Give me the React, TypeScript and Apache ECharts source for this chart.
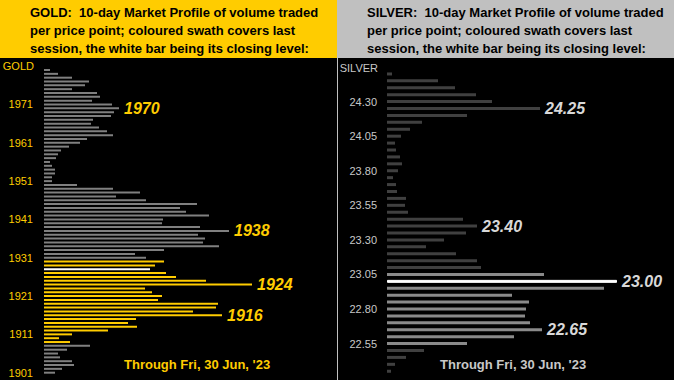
import React, { useEffect, useRef } from "react";
import * as echarts from "echarts";

// GOLD: price points (top to bottom) and 10-day volume per price point (arbitrary units)
const goldPrices = [
  "1980", "1979", "1978", "1977", "1976", "1975", "1974", "1973", "1972", "1971",
  "1970", "1969", "1968", "1967", "1966", "1965", "1964", "1963", "1962", "1961",
  "1960", "1959", "1958", "1957", "1956", "1955", "1954", "1953", "1952", "1951",
  "1950", "1949", "1948", "1947", "1946", "1945", "1944", "1943", "1942", "1941",
  "1940", "1939", "1938", "1937", "1936", "1935", "1934", "1933", "1932", "1931",
  "1930", "1929", "1928", "1927", "1926", "1925", "1924", "1923", "1922", "1921",
  "1920", "1919", "1918", "1917", "1916", "1915", "1914", "1913", "1912", "1911",
  "1910", "1909", "1908", "1907", "1906", "1905", "1904", "1903", "1902", "1901",
];
const goldVolume = [
  6, 14, 28, 45, 41, 28, 53, 56, 48, 68,
  75, 70, 67, 49, 47, 55, 63, 69, 43, 36,
  25, 17, 14, 12, 6, 8, 11, 11, 8, 8,
  33, 69, 96, 72, 102, 153, 136, 142, 165, 119,
  118, 156, 185, 154, 161, 159, 175, 120, 91, 102,
  120, 111, 106, 122, 132, 162, 208, 101, 108, 118,
  114, 174, 172, 149, 178, 92, 84, 93, 64, 28,
  15, 26, 46, 23, 14, 16, 28, 30, 18, 11,
];
const goldSessionHigh = 1930;
const goldSessionLow = 1909;
const goldClose = "1928";
const goldCallouts = ["1970", "1938", "1924", "1916"];

// SILVER
const silverPrices = [
  "24.50", "24.45", "24.40", "24.35", "24.30", "24.25", "24.20", "24.15", "24.10", "24.05",
  "24.00", "23.95", "23.90", "23.85", "23.80", "23.75", "23.70", "23.65", "23.60", "23.55",
  "23.50", "23.45", "23.40", "23.35", "23.30", "23.25", "23.20", "23.15", "23.10", "23.05",
  "23.00", "22.95", "22.90", "22.85", "22.80", "22.75", "22.70", "22.65", "22.60", "22.55",
  "22.50", "22.45", "22.40", "22.35",
];
const silverVolume = [
  5, 51, 68, 89, 105, 153, 80, 35, 23, 14,
  8, 9, 13, 15, 11, 6, 9, 10, 19, 18,
  21, 76, 90, 79, 57, 39, 69, 90, 94, 157,
  230, 217, 125, 142, 139, 138, 143, 155, 127, 80,
  37, 19, 8, 4,
];
const silverSessionHigh = 23.05;
const silverSessionLow = 22.55;
const silverClose = "23.00";
const silverCallouts = ["24.25", "23.40", "23.00", "22.65"];

const headerGold =
  "GOLD:  10-day Market Profile of volume traded\nper price point; coloured swath covers last\nsession, the white bar being its closing level:";
const headerSilver =
  "SILVER:  10-day Market Profile of volume traded\nper price point; coloured swath covers last\nsession, the white bar being its closing level:";
const throughText = "Through Fri, 30 Jun, '23";

const FONT = "'Liberation Sans', Arial, sans-serif";
const GOLD = "#FFCC00";
const SILVER_TXT = "#C8C8C8";

export default function App() {
  const ref = useRef<HTMLDivElement>(null);

  useEffect(() => {
    if (!ref.current) return;
    const chart = echarts.init(ref.current, undefined, { renderer: "svg" });

    const goldCats = goldPrices.slice().reverse();
    const goldVals = goldVolume.slice().reverse();
    const goldData = goldCats.map((p, i) => {
      const pv = Number(p);
      let color = "#808080";
      if (pv >= goldSessionLow && pv <= goldSessionHigh) color = GOLD;
      if (p === goldClose) color = "#FFFFFF";
      const item: any = { value: goldVals[i], itemStyle: { color } };
      if (goldCallouts.includes(p)) {
        item.label = {
          show: true,
          position: "right",
          distance: 5,
          formatter: "{b}",
          color: GOLD,
          fontSize: 16,
          fontWeight: "bold",
          fontStyle: "italic",
          fontFamily: FONT,
        };
      }
      return item;
    });

    const silverCats = silverPrices.slice().reverse();
    const silverVals = silverVolume.slice().reverse();
    const silverData = silverCats.map((p, i) => {
      const pv = Number(p);
      let color = "#404040";
      if (pv >= silverSessionLow - 1e-9 && pv <= silverSessionHigh + 1e-9) color = "#8A8A8A";
      const item: any = { value: silverVals[i], itemStyle: { color } };
      if (p === silverClose) {
        item.itemStyle = { color: "#FFFFFF", borderColor: "#FFFFFF", borderWidth: 1 };
      }
      if (silverCallouts.includes(p)) {
        item.label = {
          show: true,
          position: "right",
          distance: 5,
          formatter: "{b}",
          color: "#D8D8D8",
          fontSize: 16,
          fontWeight: "bold",
          fontStyle: "italic",
          fontFamily: FONT,
        };
      }
      return item;
    });

    chart.setOption({
      animation: false,
      backgroundColor: "#000000",
      textStyle: { fontFamily: FONT },
      grid: [
        { left: 44, top: 68.1, width: 250, height: 306.5, containLabel: false },
        { left: 387, top: 70.5, width: 280, height: 304.2, containLabel: false },
      ],
      xAxis: [
        { type: "value", gridIndex: 0, min: 0, max: 250, show: false },
        { type: "value", gridIndex: 1, min: 0, max: 280, show: false },
      ],
      yAxis: [
        {
          type: "category",
          gridIndex: 0,
          data: goldCats,
          name: "GOLD",
          nameLocation: "end",
          nameGap: 2,
          nameTextStyle: { color: GOLD, fontSize: 11, fontFamily: FONT, align: "right", verticalAlign: "middle", padding: [0, 10, 0, 0] },
          axisLine: { show: false },
          axisTick: { show: false },
          splitLine: { show: false },
          axisLabel: {
            color: GOLD,
            fontSize: 11,
            fontFamily: FONT,
            margin: 11,
            interval: (idx: number) => idx % 10 === 0,
          },
        },
        {
          type: "category",
          gridIndex: 1,
          data: silverCats,
          name: "SILVER",
          nameLocation: "end",
          nameGap: 3,
          nameTextStyle: { color: SILVER_TXT, fontSize: 11, fontFamily: FONT, align: "right", verticalAlign: "middle", padding: [0, 9, 0, 0] },
          axisLine: { show: false },
          axisTick: { show: false },
          splitLine: { show: false },
          axisLabel: {
            color: SILVER_TXT,
            fontSize: 11,
            fontFamily: FONT,
            margin: 10,
            interval: (idx: number) => idx % 5 === 4,
          },
        },
      ],
      series: [
        { type: "bar", xAxisIndex: 0, yAxisIndex: 0, data: goldData, barWidth: 2 },
        { type: "bar", xAxisIndex: 1, yAxisIndex: 1, data: silverData, barWidth: 3 },
      ],
      graphic: [
        { type: "rect", shape: { x: 0, y: 0, width: 337, height: 58 }, style: { fill: GOLD }, silent: true },
        { type: "rect", shape: { x: 337, y: 0, width: 337, height: 58 }, style: { fill: "#C0C0C0" }, silent: true },
        { type: "line", shape: { x1: 337.5, y1: 58, x2: 337.5, y2: 380 }, style: { stroke: "#C0C0C0", lineWidth: 1 }, silent: true },
        {
          type: "text",
          left: 30,
          top: 3,
          style: { text: headerGold, fill: "#000", font: `bold 13px ${FONT}`, lineHeight: 18 },
        },
        {
          type: "text",
          left: 367,
          top: 3,
          style: { text: headerSilver, fill: "#000", font: `bold 13px ${FONT}`, lineHeight: 18 },
        },
        {
          type: "text",
          left: 124,
          top: 358,
          style: { text: throughText, fill: GOLD, font: `bold 13px ${FONT}` },
        },
        {
          type: "text",
          left: 440,
          top: 358,
          style: { text: throughText, fill: SILVER_TXT, font: `bold 13px ${FONT}` },
        },
      ],
    });

    return () => chart.dispose();
  }, []);

  return (
    <div
      ref={ref}
      style={{ position: "fixed", left: 0, top: 0, width: 674, height: 380 }}
    />
  );
}
